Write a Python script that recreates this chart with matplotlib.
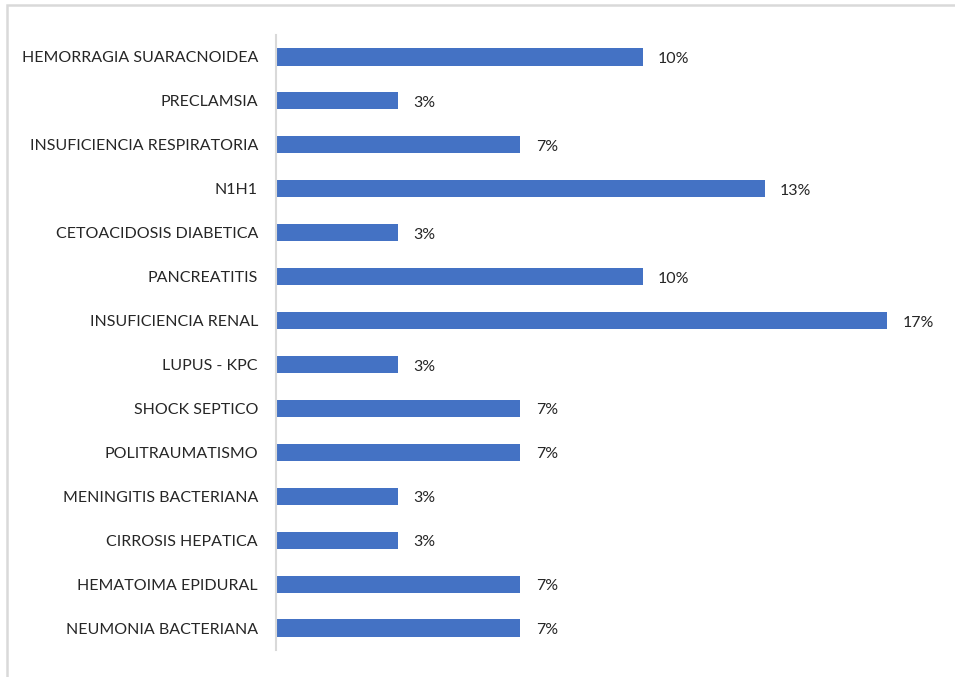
import matplotlib
matplotlib.use("Agg")
import matplotlib.pyplot as plt
from matplotlib.patches import Rectangle

# diagnosticos (de arriba hacia abajo) y numero de casos
diagnosticos = [
    "HEMORRAGIA SUARACNOIDEA",
    "PRECLAMSIA",
    "INSUFICIENCIA RESPIRATORIA",
    "N1H1",
    "CETOACIDOSIS DIABETICA",
    "PANCREATITIS",
    "INSUFICIENCIA RENAL",
    "LUPUS - KPC",
    "SHOCK SEPTICO",
    "POLITRAUMATISMO",
    "MENINGITIS BACTERIANA",
    "CIRROSIS HEPATICA",
    "HEMATOIMA EPIDURAL",
    "NEUMONIA BACTERIANA",
]
casos = [3, 1, 2, 4, 1, 3, 5, 1, 2, 2, 1, 1, 2, 2]
total = sum(casos)
porcentajes = [c / total for c in casos]

azul = "#4472C4"
gris = "#D9D9D9"
texto = "#262626"

plt.rcParams["font.family"] = ["Lato", "DejaVu Sans"]

fig = plt.figure(figsize=(9.55, 6.77), dpi=100)
ax = fig.add_axes([276 / 955, 27 / 677, 660 / 955, 615 / 677])

ypos = list(range(len(diagnosticos)))
ax.barh(ypos, porcentajes, height=0.39, color=azul)

# etiquetas de porcentaje a la derecha de cada barra
for y, p in zip(ypos, porcentajes):
    ax.annotate(f"{p:.0%}", (p, y), xytext=(11, -1.5), textcoords="offset points",
                va="center", ha="left", fontsize=11.5, color=texto)

ax.set_yticks(ypos)
ax.set_yticklabels(diagnosticos, fontsize=11.5, color=texto)
ax.set_ylim(len(diagnosticos) - 0.5, -0.5)
ax.set_xlim(0, 0.18)
ax.set_xticks([])
ax.tick_params(axis="y", length=0, pad=13)
for s in ["top", "right", "bottom"]:
    ax.spines[s].set_visible(False)
ax.spines["left"].set_color(gris)
ax.spines["left"].set_linewidth(1.5)

# marco gris alrededor del grafico
fig.patches.append(Rectangle((7 / 955, -0.1), 1.2, (677 - 5) / 677 + 0.1,
                             transform=fig.transFigure, fill=False,
                             edgecolor=gris, linewidth=1.8))

fig.savefig("out.png", dpi=100)
